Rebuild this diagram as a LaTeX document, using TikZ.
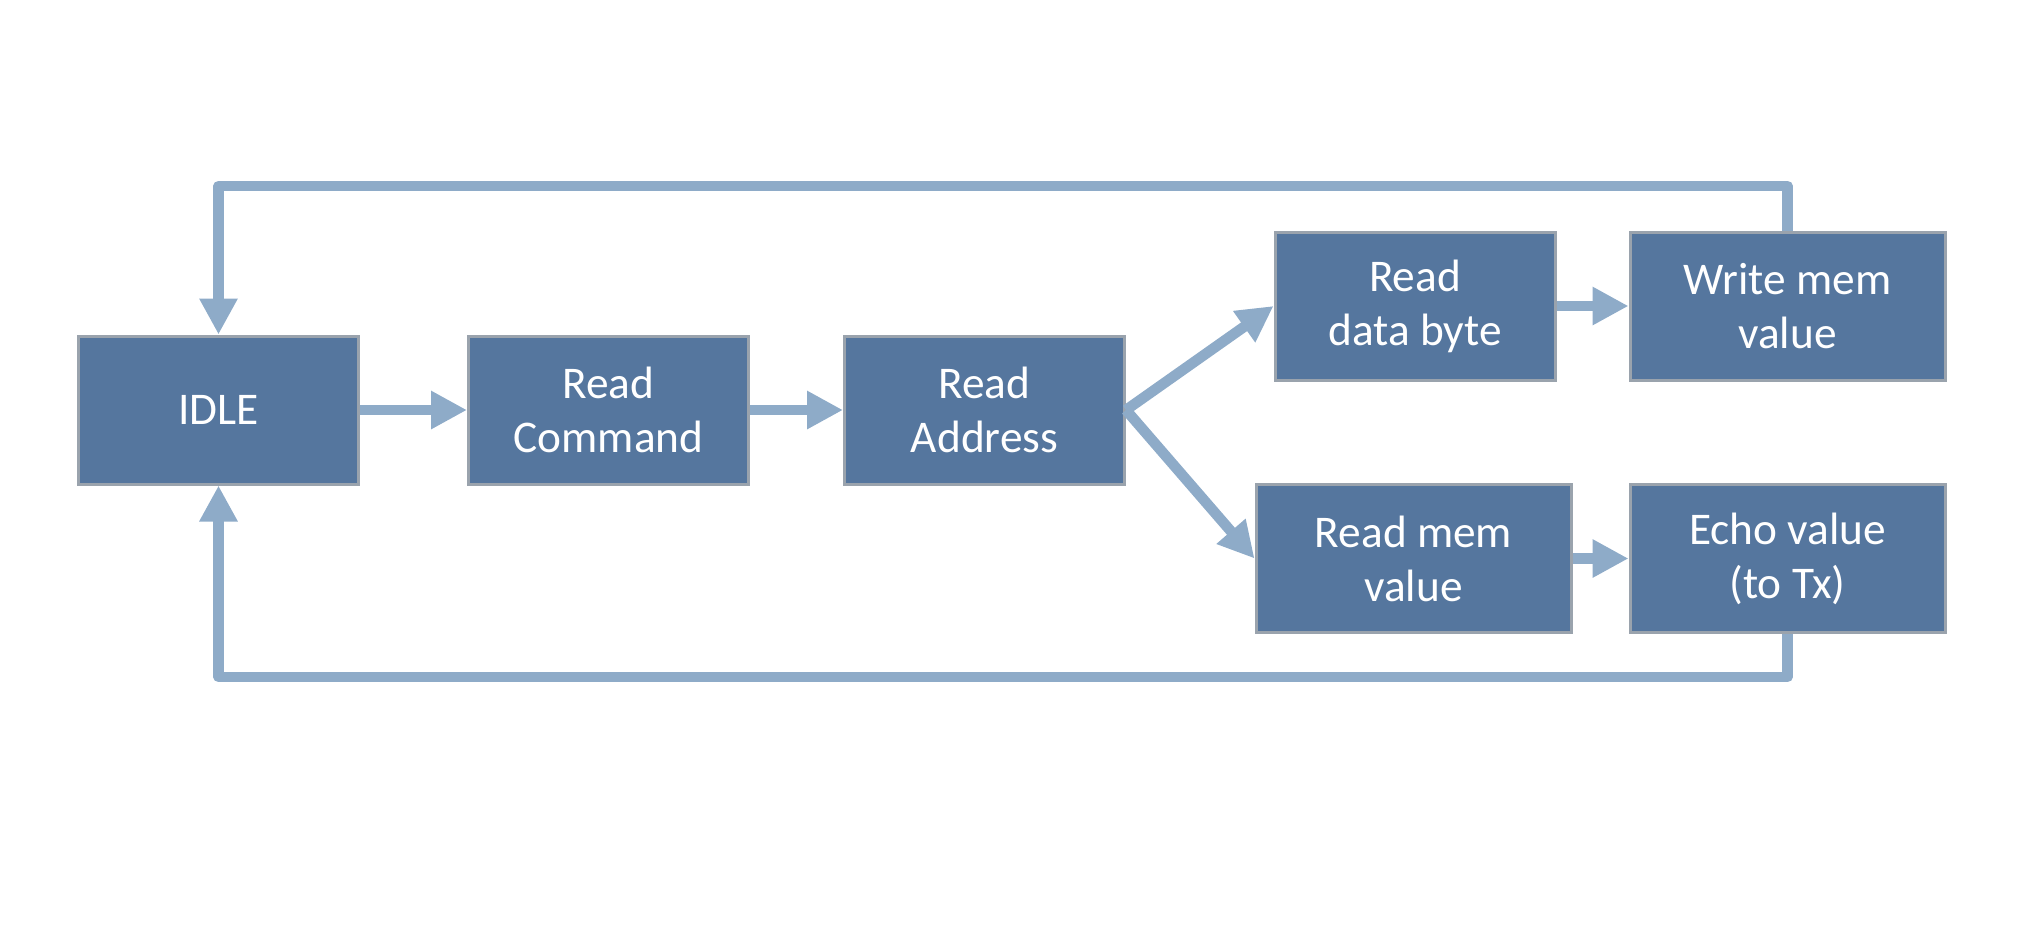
\documentclass[tikz,border=0pt]{standalone}
\usepackage{fontspec}
\setmainfont{Carlito}
\usetikzlibrary{arrows.meta}
\definecolor{boxfill}{HTML}{55769E}
\definecolor{boxline}{HTML}{9AA3AD}
\definecolor{flowline}{HTML}{8EABC8}
\begin{document}
\begin{tikzpicture}[
            state/.style={rectangle, draw=boxline, line width=0.85pt, fill=boxfill, text=white,
                minimum width=2.8cm, minimum height=1.48cm, align=center, inner sep=2pt,
                font=\fontsize{12.9}{15.4}\selectfont},
            wide/.style={state, minimum width=3.15cm},
            flow/.style={draw=flowline, line width=3pt, line join=round,
                -{Triangle[length=0.36cm, width=0.36cm]}}
        ]
            \useasboundingbox (0,0) rectangle (20.42,-9.32);
            \node[state] (idle)  at (2.185, -4.10)  {IDLE};
            \node[state] (cmd)   at (6.085, -4.10)  {Read\\Command};
            \node[state] (addr)  at (9.845, -4.10)  {Read\\Address};
            \node[state] (rdata) at (14.15, -3.06)  {Read\\data byte};
            \node[wide]  (wmem)  at (17.875, -3.06) {Write mem\\value};
            \node[wide]  (rmem)  at (14.135, -5.585) {Read mem\\value};
            \node[wide]  (echo)  at (17.875, -5.585) {Echo value\\(to Tx)};
            \coordinate (topbus) at (0, -1.86);
            \coordinate (botbus) at (0, -6.77);
            \draw[flow] (idle)--(cmd);
            \draw[flow] (cmd)--(addr);
            \draw[flow] (addr.east)--(rdata.west);
            \draw[flow] (addr.east)--(rmem.west);
            \draw[flow] (rdata)--(wmem);
            \draw[flow] (rmem)--(echo);
            \draw[flow] (wmem.north) |- (topbus -| idle.north) -- (idle.north);
            \draw[flow] (echo.south) |- (botbus -| idle.south) -- (idle.south);
        \end{tikzpicture}
\end{document}
